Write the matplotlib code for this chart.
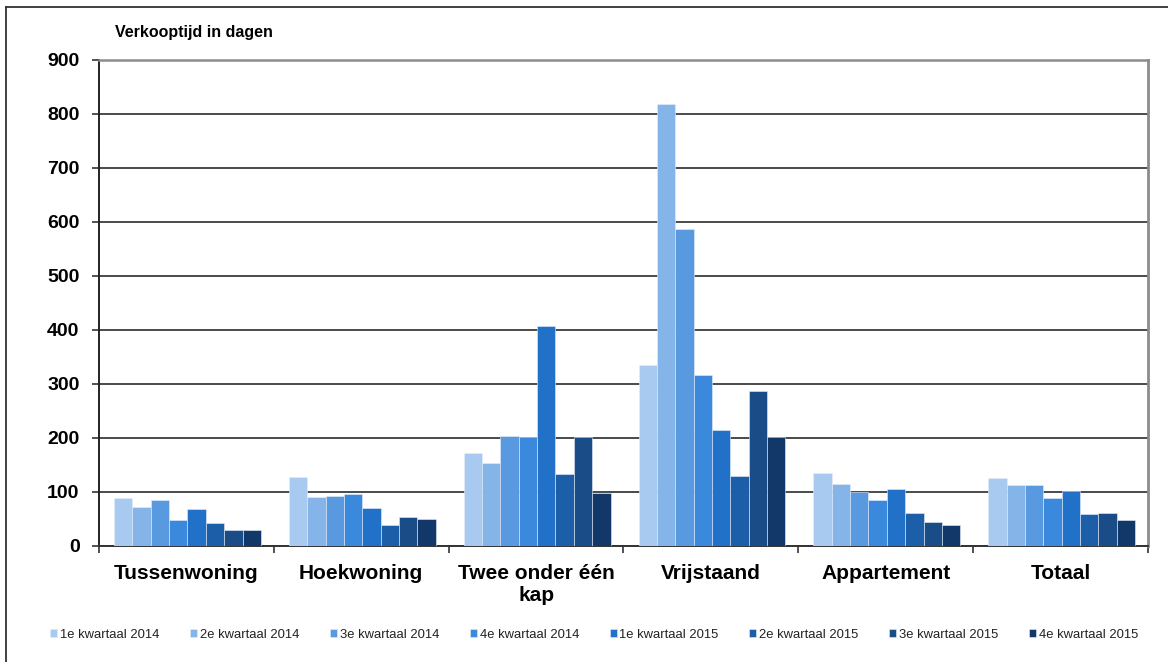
import numpy as np
import matplotlib
matplotlib.use("Agg")
from matplotlib import pyplot as plt
from matplotlib.lines import Line2D

# Gegevens: verkooptijd in dagen per woningtype en kwartaal
categorieen = ["Tussenwoning", "Hoekwoning", "Twee onder één\nkap",
               "Vrijstaand", "Appartement", "Totaal"]
kwartalen = ["1e kwartaal 2014", "2e kwartaal 2014", "3e kwartaal 2014",
             "4e kwartaal 2014", "1e kwartaal 2015", "2e kwartaal 2015",
             "3e kwartaal 2015", "4e kwartaal 2015"]

k1_2014 = [88, 127, 173, 336, 136, 126]
k2_2014 = [73, 91, 153, 818, 114, 113]
k3_2014 = [85, 93, 203, 587, 100, 113]
k4_2014 = [48, 96, 202, 317, 86, 89]
k1_2015 = [68, 70, 407, 215, 105, 102]
k2_2015 = [42, 38, 134, 129, 62, 59]
k3_2015 = [30, 54, 201, 287, 44, 62]
k4_2015 = [30, 50, 98, 202, 38, 48]
reeksen = [k1_2014, k2_2014, k3_2014, k4_2014,
           k1_2015, k2_2015, k3_2015, k4_2015]

kleuren = ["#a8caf0", "#85b4e8", "#5899e0", "#3a89dd",
           "#2271c8", "#1c5ea8", "#1a4c88", "#12386a"]

plt.rcParams['font.family'] = ['Liberation Sans', 'DejaVu Sans']

fig = plt.figure(figsize=(11.68, 6.62), dpi=100)
ax = fig.add_axes([99 / 1168, 116 / 662, 1049 / 1168, 486 / 662])

x = np.arange(len(categorieen))
breedte = 0.105
for i, (waarden, kleur, naam) in enumerate(zip(reeksen, kleuren, kwartalen)):
    ax.bar(x + (i - 3.5) * breedte + 0.006, waarden, breedte, color=kleur,
           edgecolor='#e6eefa', linewidth=0.4, label=naam, zorder=3)

ax.set_xlim(-0.5, len(categorieen) - 0.5)
ax.set_ylim(0, 900)
ax.set_yticks(range(0, 901, 100))
ax.yaxis.grid(True, color='#4a4a4a', linewidth=1.4, zorder=0)
ax.set_axisbelow(True)

# kategorie-grenzen als tickmarks, labels in het midden
ax.set_xticks(np.arange(-0.5, len(categorieen), 1.0))
ax.set_xticklabels([])
ax.set_xticks(x, minor=True)
ax.set_xticklabels(categorieen, minor=True, fontsize=15, fontweight='bold',
                   linespacing=1.2)
ax.tick_params(axis='x', which='minor', length=0, pad=13)
ax.tick_params(axis='x', which='major', length=5, width=1.2, color='#333333')
ax.tick_params(axis='y', length=5, width=1.2, color='#333333', pad=9,
               labelsize=14)
for lbl in ax.get_yticklabels():
    lbl.set_fontweight('bold')

ax.spines['left'].set_color('#222222')
ax.spines['left'].set_linewidth(1.4)
ax.spines['bottom'].set_color('#333333')
ax.spines['bottom'].set_linewidth(1.4)
ax.spines['top'].set_color('#8c8c8c')
ax.spines['top'].set_linewidth(1.8)
ax.spines['right'].set_color('#8c8c8c')
ax.spines['right'].set_linewidth(2.0)

fig.text(115 / 1168, 1 - 33 / 662, "Verkooptijd in dagen", fontsize=11.5,
         fontweight='bold', ha='left', va='center')

handles, labels = ax.get_legend_handles_labels()
fig.legend(handles, labels, loc='center', ncol=8,
           bbox_to_anchor=(594 / 1168, 1 - 635 / 662), frameon=False,
           fontsize=9.4, handlelength=0.55, handleheight=0.55,
           handletextpad=0.2, columnspacing=2.35, labelcolor='#222222')

# omlijsting van de grafiek
fig.add_artist(Line2D([6 / 1168, 6 / 1168], [0, 1 - 6.5 / 662],
                      color='#333333', linewidth=1.3))
fig.add_artist(Line2D([6 / 1168, 1], [1 - 6.5 / 662, 1 - 6.5 / 662],
                      color='#333333', linewidth=1.3))

fig.savefig('out.png', dpi=100)
